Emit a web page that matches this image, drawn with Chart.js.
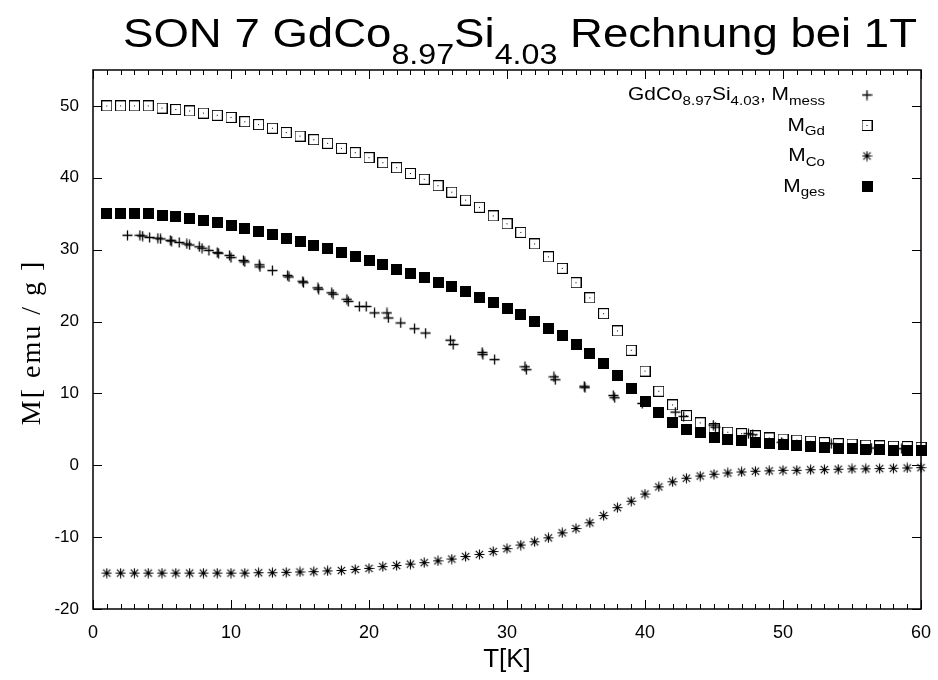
<!DOCTYPE html>
<html lang="de">
<head>
<meta charset="UTF-8">
<title>SON 7 GdCo8.97Si4.03 Rechnung bei 1T</title>
<script src="https://cdn.jsdelivr.net/npm/chart.js"></script>
<style>
  body { margin: 0; background: #fff; }
  #chart { display: block; }
</style>
</head>
<body>
<canvas id="chart" width="938" height="680"></canvas>
<script>
// calculated curves, one point per kelvin
const tempK = [1, 2, 3, 4, 5, 6, 7, 8, 9, 10,
  11, 12, 13, 14, 15, 16, 17, 18, 19, 20,
  21, 22, 23, 24, 25, 26, 27, 28, 29, 30,
  31, 32, 33, 34, 35, 36, 37, 38, 39, 40,
  41, 42, 43, 44, 45, 46, 47, 48, 49, 50,
  51, 52, 53, 54, 55, 56, 57, 58, 59, 60];
const mGd = [50.0, 50.0, 50.0, 50.0, 49.7, 49.5, 49.3, 49.0, 48.7, 48.4,
  47.8, 47.4, 46.9, 46.3, 45.8, 45.3, 44.8, 44.1, 43.5, 42.8,
  42.1, 41.4, 40.6, 39.8, 38.9, 38.0, 36.9, 35.9, 34.7, 33.6,
  32.4, 30.8, 29.0, 27.4, 25.4, 23.3, 21.1, 18.7, 16.0, 13.1,
  10.3, 8.4, 6.9, 5.9, 5.1, 4.6, 4.4, 4.1, 3.8, 3.65,
  3.5, 3.35, 3.15, 3.0, 2.95, 2.8, 2.7, 2.65, 2.6, 2.5];
const mCo = [-15.0, -15.0, -15.0, -15.0, -15.0, -15.0, -15.0, -15.0, -15.0, -15.0,
  -15.0, -14.95, -14.95, -14.9, -14.85, -14.8, -14.7, -14.65, -14.5, -14.35,
  -14.1, -13.95, -13.75, -13.55, -13.3, -13.05, -12.7, -12.4, -12.0, -11.6,
  -11.1, -10.65, -10.1, -9.4, -8.8, -8.0, -7.0, -5.9, -5.0, -4.0,
  -3.0, -2.3, -1.8, -1.5, -1.25, -1.07, -0.93, -0.83, -0.78, -0.7,
  -0.7, -0.62, -0.6, -0.55, -0.5, -0.5, -0.46, -0.42, -0.38, -0.33];
const mGes = [35.0, 35.0, 35.0, 35.0, 34.8, 34.6, 34.4, 34.1, 33.8, 33.4,
  32.9, 32.5, 32.1, 31.6, 31.1, 30.6, 30.1, 29.6, 29.0, 28.5,
  27.9, 27.3, 26.7, 26.1, 25.5, 24.9, 24.2, 23.4, 22.6, 21.8,
  21.0, 20.0, 19.0, 18.0, 16.8, 15.6, 14.1, 12.5, 10.7, 8.9,
  7.3, 6.0, 5.0, 4.5, 3.9, 3.6, 3.4, 3.15, 3.0, 2.85,
  2.7, 2.55, 2.45, 2.35, 2.3, 2.2, 2.15, 2.1, 2.1, 2.05];

// measured points (own temperature grid)
const messT = [2.5, 3.4, 3.6, 4.1, 4.7, 4.9, 5.6, 5.7, 6.25, 6.8,
  7.0, 7.7, 7.9, 8.4, 9.0, 9.1, 9.9, 10.0, 10.9, 11.0,
  12.05, 12.1, 13.0, 14.1, 14.2, 15.2, 15.25, 16.3, 16.35, 17.3,
  17.4, 18.4, 18.5, 19.3, 19.8, 20.4, 21.3, 21.4, 22.3, 23.3,
  24.1, 25.9, 26.1, 28.2, 28.25, 29.1, 31.3, 31.4, 33.4, 33.5,
  35.6, 35.65, 37.7, 37.8, 39.8, 42.2, 42.8, 44.95, 45.1, 47.5,
  47.8, 49.9, 53.5, 56.4, 58.6];
const messM = [32.0, 32.0, 31.9, 31.7, 31.6, 31.5, 31.3, 31.2, 31.0, 30.8,
  30.65, 30.4, 30.2, 29.9, 29.6, 29.5, 29.2, 28.9, 28.5, 28.3,
  27.9, 27.6, 27.1, 26.4, 26.2, 25.6, 25.4, 24.7, 24.5, 24.0,
  23.8, 23.1, 22.8, 22.1, 22.1, 21.2, 21.2, 20.5, 19.8, 19.0,
  18.4, 17.4, 16.8, 15.7, 15.4, 14.7, 13.7, 13.3, 12.3, 11.9,
  11.0, 10.8, 9.7, 9.4, 8.6, 7.4, 6.8, 5.6, 5.3, 4.4,
  4.25, 3.2, 3.0, 2.4, 2.3];

const xTicks = [0, 10, 20, 30, 40, 50, 60];
const yTicks = [-20, -10, 0, 10, 20, 30, 40, 50];

const SANS = 'Liberation Sans';

// gnuplot-like point symbols
function makeMarker(size, draw) {
  const c = document.createElement('canvas');
  c.width = size;
  c.height = size;
  const g = c.getContext('2d');
  g.strokeStyle = '#000';
  g.fillStyle = '#000';
  draw(g, size);
  return c;
}
const plusMark = makeMarker(11, (g, s) => {
  g.lineWidth = 1.3;
  g.beginPath();
  g.moveTo(0.5, s / 2); g.lineTo(s - 0.5, s / 2);
  g.moveTo(s / 2, 0.5); g.lineTo(s / 2, s - 0.5);
  g.stroke();
});
const openSqMark = makeMarker(11, (g, s) => {
  g.lineWidth = 1;
  g.strokeRect(0.5, 0.5, s - 1, s - 1);
  g.fillRect(5, 5, 1, 1);
});
const starMark = makeMarker(11, (g, s) => {
  g.lineWidth = 1.1;
  g.beginPath();
  g.moveTo(0.5, s / 2); g.lineTo(s - 0.5, s / 2);
  g.moveTo(s / 2, 0.5); g.lineTo(s / 2, s - 0.5);
  g.moveTo(1.8, 1.8); g.lineTo(s - 1.8, s - 1.8);
  g.moveTo(s - 1.8, 1.8); g.lineTo(1.8, s - 1.8);
  g.stroke();
  g.fillRect(4.5, 4.5, 2, 2);
});
const filledSqMark = makeMarker(11, (g, s) => {
  g.fillRect(0, 0, s, s);
});

function pairs(xs, ys) {
  return xs.map((x, i) => ({ x: x, y: ys[i] }));
}

function richWidth(ctx, parts, size, subSize) {
  let w = 0;
  parts.forEach(p => {
    ctx.font = (p.sub ? subSize : size) + 'px "' + SANS + '"';
    w += ctx.measureText(p.t).width;
  });
  return w;
}

// text with subscripts, parts = [{t, sub}], sx stretches horizontally
function drawRich(ctx, parts, x, y, align, size, subSize, subDrop, sx) {
  const w = richWidth(ctx, parts, size, subSize) * sx;
  let cx = align === 'right' ? x - w : (align === 'center' ? x - w / 2 : x);
  ctx.save();
  ctx.translate(cx, y);
  ctx.scale(sx, 1);
  ctx.textAlign = 'left';
  ctx.textBaseline = 'alphabetic';
  let px = 0;
  parts.forEach(p => {
    ctx.font = (p.sub ? subSize : size) + 'px "' + SANS + '"';
    ctx.fillText(p.t, px, p.sub ? subDrop : 0);
    px += ctx.measureText(p.t).width;
  });
  ctx.restore();
}

const titleParts = [{ t: 'SON 7 GdCo' }, { t: '8.97', sub: true }, { t: 'Si' }, { t: '4.03', sub: true }, { t: ' Rechnung bei 1T' }];

const legendRows = [
  { parts: [{ t: 'GdCo' }, { t: '8.97', sub: true }, { t: 'Si' }, { t: '4.03', sub: true }, { t: ', M' }, { t: 'mess', sub: true }], mark: plusMark },
  { parts: [{ t: 'M' }, { t: 'Gd', sub: true }], mark: openSqMark },
  { parts: [{ t: 'M' }, { t: 'Co', sub: true }], mark: starMark },
  { parts: [{ t: 'M' }, { t: 'ges', sub: true }], mark: filledSqMark }
];

const framePlugin = {
  id: 'frame',
  beforeDraw(chart) {
    const ctx = chart.ctx;
    ctx.save();
    ctx.fillStyle = '#fff';
    ctx.fillRect(0, 0, chart.width, chart.height);
    ctx.restore();
  },
  beforeDatasetsDraw(chart) {
    const { ctx, chartArea: a, scales: { x, y } } = chart;
    ctx.save();
    ctx.strokeStyle = '#000';
    ctx.lineWidth = 1;
    ctx.beginPath();
    for (let v = 0; v <= 60; v++) {
      const px = Math.round(x.getPixelForValue(v)) + 0.5;
      const len = v % 10 === 0 ? 9 : 5;
      ctx.moveTo(px, a.bottom); ctx.lineTo(px, a.bottom - len);
      ctx.moveTo(px, a.top); ctx.lineTo(px, a.top + len);
    }
    yTicks.forEach(v => {
      const py = Math.round(y.getPixelForValue(v)) + 0.5;
      ctx.moveTo(a.left, py); ctx.lineTo(a.left + 9, py);
      ctx.moveTo(a.right, py); ctx.lineTo(a.right - 9, py);
    });
    ctx.stroke();
    ctx.lineWidth = 1.5;
    ctx.strokeRect(a.left, a.top, a.right - a.left, a.bottom - a.top);
    ctx.restore();
  },
  afterDraw(chart) {
    const { ctx, chartArea: a } = chart;
    ctx.save();
    ctx.fillStyle = '#000';
    // title, stretched to the width of the original
    const tw = richWidth(ctx, titleParts, 41, 29);
    drawRich(ctx, titleParts, 123, 47, 'left', 41, 29, 17, 794 / tw);
    // axis titles
    ctx.font = '26px "' + SANS + '"';
    ctx.textAlign = 'center';
    ctx.textBaseline = 'alphabetic';
    ctx.fillText('T[K]', (a.left + a.right) / 2, 667);
    ctx.save();
    ctx.translate(40, (a.top + a.bottom) / 2 + 3);
    ctx.rotate(-Math.PI / 2);
    ctx.font = '28px "Liberation Serif"';
    ctx.letterSpacing = '2px';
    ctx.fillText('M[ emu / g ]', 0, 0);
    ctx.restore();
    // legend
    const lw = richWidth(ctx, legendRows[0].parts, 18, 13);
    const lsx = 197 / lw;
    legendRows.forEach((row, i) => {
      const base = 100 + i * 30.5;
      drawRich(ctx, row.parts, 825, base, 'right', 18, 13, 4.5, lsx);
      const m = row.mark;
      ctx.drawImage(m, 867 - m.width / 2, base - 5 - m.height / 2);
    });
    ctx.restore();
  }
};

new Chart(document.getElementById('chart'), {
  type: 'scatter',
  data: {
    datasets: [
      { label: 'GdCo8.97Si4.03, Mmess', data: pairs(messT, messM), pointStyle: plusMark, order: 4, clip: false },
      { label: 'MGd', data: pairs(tempK, mGd), pointStyle: openSqMark, order: 3, clip: false },
      { label: 'MCo', data: pairs(tempK, mCo), pointStyle: starMark, order: 2, clip: false },
      { label: 'Mges', data: pairs(tempK, mGes), pointStyle: filledSqMark, order: 1, clip: false }
    ]
  },
  options: {
    responsive: false,
    animation: false,
    devicePixelRatio: 1,
    layout: { padding: { top: 70, right: 17, left: 0, bottom: 0 } },
    plugins: {
      legend: { display: false },
      tooltip: { enabled: false },
      title: { display: false }
    },
    scales: {
      x: {
        type: 'linear',
        min: 0,
        max: 60,
        afterBuildTicks: s => { s.ticks = xTicks.map(v => ({ value: v })); },
        afterFit: s => { s.height = 71; },
        grid: { display: false },
        border: { display: false },
        ticks: { color: '#000', font: { family: SANS, size: 18 }, padding: 5, maxRotation: 0, autoSkip: false }
      },
      y: {
        type: 'linear',
        min: -20,
        max: 55,
        afterBuildTicks: s => { s.ticks = yTicks.map(v => ({ value: v })); },
        afterFit: s => { s.width = 93; },
        grid: { display: false },
        border: { display: false },
        ticks: { color: '#000', font: { family: SANS, size: 17 }, padding: 6, autoSkip: false }
      }
    }
  },
  plugins: [framePlugin]
});
</script>
</body>
</html>
